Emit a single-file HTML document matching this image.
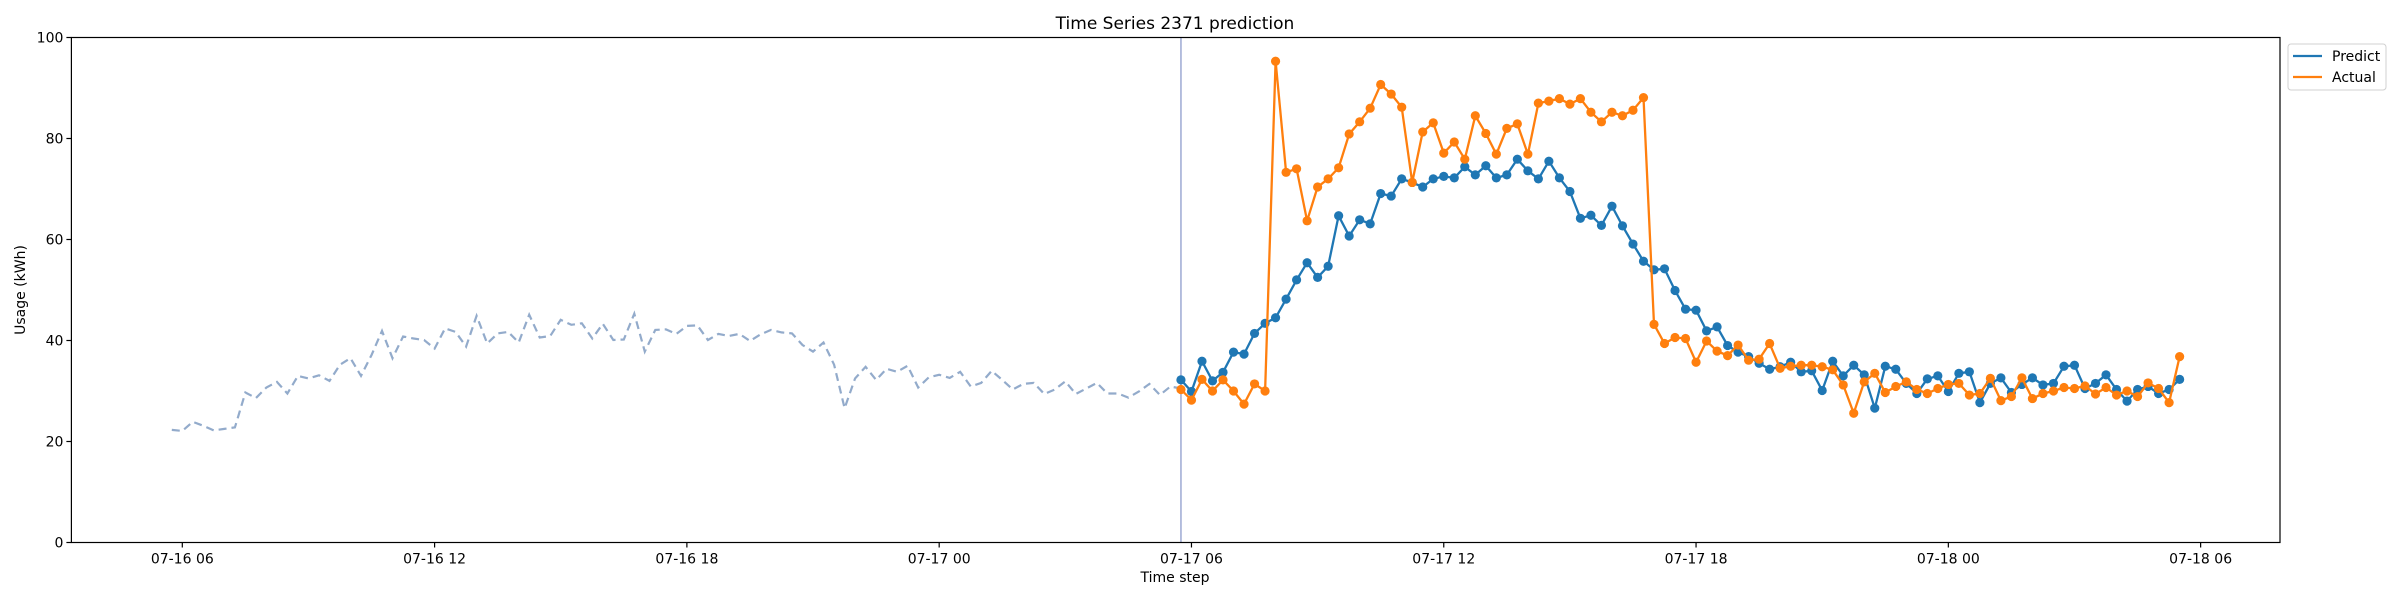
<!DOCTYPE html>
<html><head><meta charset="utf-8"><style>
html,body{margin:0;padding:0;background:#fff;}
svg{display:block;font-family:"DejaVu Sans","Liberation Sans",sans-serif;}
</style></head><body>
<svg id="chart" width="2400" height="600" viewBox="0 0 2400 600" xmlns="http://www.w3.org/2000/svg">
<rect width="2400" height="600" fill="#fff"/>
<text x="1175" y="29" font-size="17" text-anchor="middle">Time Series 2371 prediction</text>
<text transform="translate(25,290) rotate(-90)" font-size="14" text-anchor="middle">Usage (kWh)</text>
<text x="1175" y="582" font-size="14" text-anchor="middle">Time step</text>
<g id="grid"></g>
<g id="marks"></g>
<rect x="71.4" y="37.5" width="2208.6" height="505" fill="none" stroke="#000" stroke-width="1.2"/>
<g>
<rect x="2288" y="44" width="98" height="46" rx="3" fill="#fff" stroke="#d0d0d0"/>
<line x1="2293" y1="56" x2="2322" y2="56" stroke="#1f77b4" stroke-width="2.3"/>
<text x="2332" y="61" font-size="14">Predict</text>
<line x1="2293" y1="77" x2="2322" y2="77" stroke="#ff7f0e" stroke-width="2.3"/>
<text x="2332" y="82" font-size="14">Actual</text>
</g>
</svg>
<script>
const historyStartHour = 5.75;
const forecastStartHour = 29.75;
const stepHours = 0.25;
const historyValues = [22.3,22.1,23.9,23.1,22.2,22.5,22.8,29.7,28.6,30.7,31.8,29.5,33.0,32.5,33.1,32.0,35.2,36.5,33.0,37.1,41.9,36.5,40.8,40.4,40.1,38.4,42.4,41.7,38.8,44.9,39.4,41.4,41.7,
39.6,45.1,40.6,40.9,44.1,43.1,43.4,40.4,43.3,40.1,40.2,45.3,37.8,42.1,42.2,41.3,42.9,43.0,40.1,41.3,40.9,41.3,39.9,41.2,42.1,41.6,41.4,39.1,37.8,39.6,35.2,26.6,
32.5,34.8,32.2,34.4,33.8,35.0,30.7,32.7,33.2,32.6,33.8,30.9,31.6,34.0,32.2,30.3,31.4,31.6,29.4,30.3,31.9,29.4,30.5,31.6,29.5,29.5,28.7,29.9,31.4,29.2,30.9,30.5];
const predictValues = [32.2,29.9,35.9,32.0,33.7,37.7,37.3,41.4,43.4,44.5,48.2,52.0,55.4,52.5,54.7,64.7,60.7,63.9,63.1,69.1,68.6,72.0,71.3,70.4,72.0,72.5,72.2,74.4,72.8,74.6,72.2,72.8,75.9,
73.6,72.0,75.5,72.2,69.5,64.2,64.8,62.8,66.6,62.7,59.1,55.7,54.0,54.2,49.9,46.2,46.0,41.9,42.7,39.0,37.7,36.8,35.5,34.3,34.8,35.7,33.8,34.0,30.1,35.9,33.0,35.1,
33.2,26.6,34.9,34.3,31.5,29.5,32.4,33.0,29.9,33.5,33.8,27.7,31.5,32.6,29.7,31.3,32.6,31.2,31.5,34.9,35.1,30.5,31.5,33.2,30.3,28.0,30.3,30.9,29.5,30.3,32.3];
const actualValues = [30.3,28.2,32.3,30.0,32.2,30.0,27.4,31.4,30.0,95.3,73.3,74.0,63.7,70.4,72.0,74.2,80.9,83.3,86.0,90.7,88.8,86.2,71.3,81.3,83.1,77.1,79.3,75.9,84.5,81.0,76.9,82.0,82.9,
76.9,87.0,87.4,87.9,86.8,87.9,85.2,83.3,85.2,84.5,85.6,88.1,43.2,39.4,40.6,40.4,35.7,39.9,37.9,37.0,39.1,36.1,36.3,39.4,34.5,34.9,35.1,35.1,34.8,34.2,31.2,25.6,
31.8,33.5,29.7,30.9,31.8,30.3,29.5,30.5,31.3,31.5,29.2,29.5,32.5,28.1,28.9,32.6,28.5,29.5,30.0,30.7,30.5,31.0,29.4,30.7,29.2,30.0,28.9,31.6,30.5,27.7,36.8];
const xTickHours = [6,12,18,24,30,36,42,48,54];
const xTickLabels = ["07-16 06","07-16 12","07-16 18","07-17 00","07-17 06","07-17 12","07-17 18","07-18 00","07-18 06"];
const yTickValues = [0,20,40,60,80,100];

const PL=71.4, PR=2280, PT=37.5, PB=542.5, XMIN=3.3625, XMAX=55.8875, YMIN=0, YMAX=100;
const NS="http://www.w3.org/2000/svg";
function xs(h){return PL+(h-XMIN)/(XMAX-XMIN)*(PR-PL);}
function ys(v){return PB-(v-YMIN)/(YMAX-YMIN)*(PB-PT);}
function mk(tag,attrs,parent){const e=document.createElementNS(NS,tag);for(const k in attrs)e.setAttribute(k,attrs[k]);parent.appendChild(e);return e;}
const grid=document.getElementById('grid'), marks=document.getElementById('marks');
xTickHours.forEach((h,i)=>{
  const t=mk('line',{x1:xs(h),x2:xs(h),y1:PB,y2:PB+5,stroke:'#000','stroke-width':1.2},grid);
  
  
  const l=mk('text',{x:xs(h),y:PB+21,'font-size':14,'text-anchor':'middle'},grid);
  l.textContent=xTickLabels[i];
  
  
});
yTickValues.forEach(v=>{
  const t=mk('line',{x1:PL-5,x2:PL,y1:ys(v),y2:ys(v),stroke:'#000','stroke-width':1.2},grid);
  
  
  const l=mk('text',{x:PL-8,y:ys(v)+5,'font-size':14,'text-anchor':'end'},grid);
  l.textContent=String(v);
  
  
});
function pts(arr,start){return arr.map((v,i)=>xs(start+i*stepHours).toFixed(1)+','+ys(v).toFixed(1)).join(' ');}
const hist=mk('polyline',{points:pts(historyValues,historyStartHour),fill:'none',stroke:'#93abcb','stroke-width':2.2,'stroke-dasharray':'8,5'},marks);


const vl=mk('line',{x1:xs(forecastStartHour),x2:xs(forecastStartHour),y1:PT,y2:PB,stroke:'#a3afd6','stroke-width':1.6},marks);


function series(arr,color,name){
  const g=mk('g',{},marks);
  
  
  const p=mk('polyline',{points:pts(arr,forecastStartHour),fill:'none',stroke:color,'stroke-width':2.3},g);
  
  
  arr.forEach((v,i)=>{
    const c=mk('circle',{cx:xs(forecastStartHour+i*stepHours),cy:ys(v),r:4.6,fill:color},g);
    
    
  });
}
series(predictValues,'#1f77b4','predict');
series(actualValues,'#ff7f0e','actual');
</script>
</body></html>
